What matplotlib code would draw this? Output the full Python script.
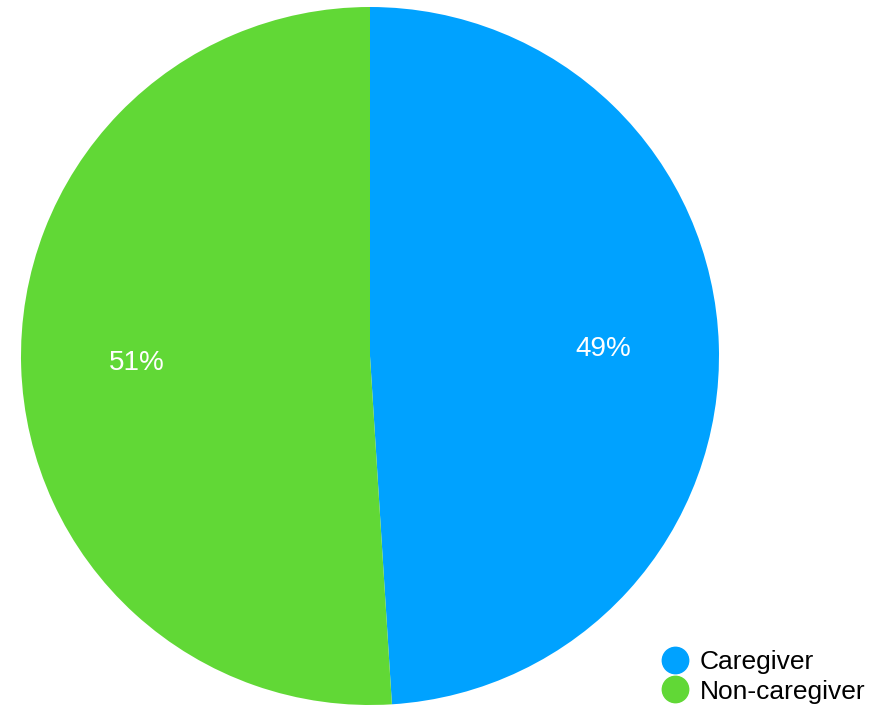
import matplotlib.pyplot as plt
from matplotlib.lines import Line2D

plt.rcParams["font.family"] = ["Liberation Sans", "DejaVu Sans"]

labels = ["Caregiver", "Non-caregiver"]
shares = [49, 51]
colors = ["#00A2FF", "#61D836"]

fig = plt.figure(figsize=(8.92, 7.07), dpi=100)
ax = fig.add_axes([21 / 892, 2 / 707, 698 / 892, 698 / 707])

ax.pie(shares, colors=colors, startangle=90, counterclock=False,
       autopct="%d%%", pctdistance=0.67, radius=1,
       textprops={"color": "white", "fontsize": 20})
ax.set_xlim(-1, 1)
ax.set_ylim(-1, 1)
ax.set_aspect("equal")

handles = [Line2D([], [], marker="o", linestyle="none", markersize=19,
                  markerfacecolor=c, markeredgecolor=c) for c in colors]
fig.legend(handles, labels, loc="lower left", bbox_to_anchor=(643 / 892, -15 / 707),
           frameon=False, fontsize=19, handletextpad=0.45, labelspacing=0.2,
           borderpad=0.2, handlelength=1.0)

fig.savefig("out.png", dpi=100)
